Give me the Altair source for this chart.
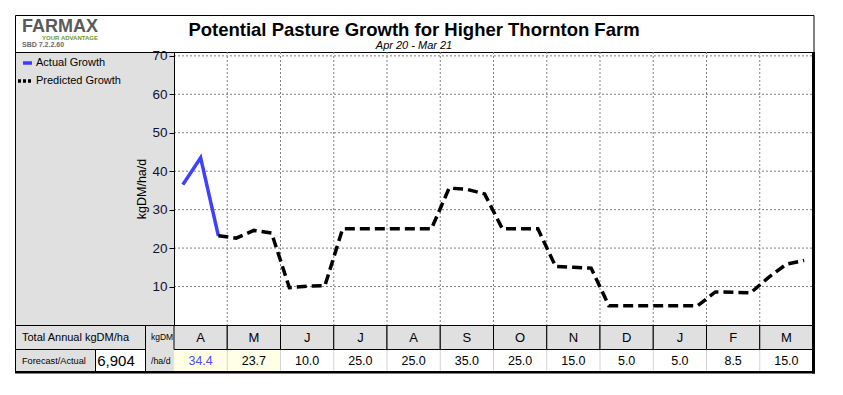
import altair as alt
import pandas as pd

# ---------------- data ----------------
months = ["A", "M", "J", "J", "A", "S", "O", "N", "D", "J", "F", "M"]
monthly_growth = [34.4, 23.7, 10.0, 25.0, 25.0, 35.0, 25.0, 15.0, 5.0, 5.0, 8.5, 15.0]
actual_dekad = [36.5, 43.5, 23.2]
predicted_start = 2
predicted_dekad = [23.2, 22.6, 24.6, 23.9, 9.7, 10.1, 10.2,
                   25.0, 25.0, 25.0, 25.0, 25.0, 25.0,
                   35.6, 35.3, 34.1, 25.0, 25.0, 25.0,
                   15.2, 15.0, 14.8, 5.0, 5.0, 5.0, 5.0, 5.0, 5.0,
                   8.6, 8.5, 8.4, 12.4, 15.8, 16.8]
y_ticks = [10, 20, 30, 40, 50, 60, 70]
total_annual = "6,904"
title_text = "Potential Pasture Growth for Higher Thornton Farm"
subtitle_text = "Apr 20 - Mar 21"

# ---------------- tables ----------------
rows = []
for i, v in enumerate(actual_dekad):
    rows.append({"t": i + 0.5, "v": v, "series": "Actual Growth"})
for j, v in enumerate(predicted_dekad):
    rows.append({"t": predicted_start + j + 0.5, "v": v, "series": "Predicted Growth"})
line_df = pd.DataFrame(rows)

month_df = pd.DataFrame({
    "m": list(range(12)),
    "letter": months,
    "val": monthly_growth,
})
month_df["x0"] = month_df["m"] * 3
month_df["x1"] = month_df["m"] * 3 + 3
month_df["mid"] = month_df["m"] * 3 + 1.5
tick_df = pd.DataFrame({"v": y_ticks})

FONT = "Liberation Sans"
GRAY = "#e0e0e0"
GRID = "#808080"
xs = alt.Scale(domain=[0, 36], nice=False, zero=False)
ys = alt.Scale(domain=[0, 71], nice=False, zero=True)
y_axis = alt.Axis(values=y_ticks, title="kgDM/ha/d", titleFont=FONT,
                  titleFontSize=12.5, titleFontWeight="normal", titleColor="black",
                  titlePadding=3, labelFont=FONT, labelFontSize=13.5,
                  labelColor="#101030", labelPadding=2, tickSize=5,
                  tickColor="black", domainColor="black", grid=False, zindex=1)

X0, Y0 = 174, 52
one = alt.Data(values=[{"k": 1}])


def px(x):
    return x - X0


def py(y):
    return y - Y0


def box(x1, y1, x2, y2, fill, stroke=None, sw=1):
    kw = {"fill": fill}
    if stroke:
        kw.update(stroke=stroke, strokeWidth=sw)
    return alt.Chart(one).mark_rect(**kw).encode(
        x=alt.value(px(x1)), x2=alt.value(px(x2)),
        y=alt.value(py(y1)), y2=alt.value(py(y2)))


def label(x, y, text, size, **kw):
    return alt.Chart(one).mark_text(text=text, fontSize=size, font=FONT, **kw).encode(
        x=alt.value(px(x)), y=alt.value(py(y)))


def hline(x1, x2, y, color, sw, dash=None):
    kw = {"color": color, "strokeWidth": sw}
    if dash:
        kw["strokeDash"] = dash
    return alt.Chart(one).mark_rule(**kw).encode(
        x=alt.value(px(x1)), x2=alt.value(px(x2)), y=alt.value(py(y)))


layers = []
# header and left panel
layers.append(box(15.5, 15.5, 814, 52.5, "white", "black"))
layers.append(box(15.5, 52.5, 174.5, 325.5, GRAY, "black"))
# table left cells
layers.append(box(15.5, 325.5, 145.5, 349.5, GRAY, "black"))
layers.append(box(15.5, 349.5, 95.5, 372, GRAY, "black"))
layers.append(box(95.5, 349.5, 145.5, 372, "white", "black"))
layers.append(box(145.5, 325.5, 174.5, 372, GRAY, "black"))

# grid lines inside the plot
layers.append(alt.Chart(month_df[month_df["m"] < 11]).mark_rule(
    color=GRID, strokeWidth=1, strokeDash=[2, 2]).encode(
    x=alt.X("x1:Q", scale=xs, axis=None),
    y=alt.value(0), y2=alt.value(273)))
layers.append(alt.Chart(tick_df).mark_rule(
    color=GRID, strokeWidth=1, strokeDash=[2, 2]).encode(
    y=alt.Y("v:Q", scale=ys, axis=y_axis),
    x=alt.value(0), x2=alt.value(639)))

# month header cells
layers.append(alt.Chart(month_df).mark_rect(fill=GRAY, stroke="black", strokeWidth=1).encode(
    x=alt.X("x0:Q", scale=xs, axis=None), x2="x1:Q",
    y=alt.value(py(325.5)), y2=alt.value(py(349.5))))
# value cells
layers.append(alt.Chart(month_df).mark_rect().encode(
    x=alt.X("x0:Q", scale=xs, axis=None), x2="x1:Q",
    y=alt.value(py(350)), y2=alt.value(py(371)),
    fill=alt.condition("datum.m < 2", alt.value("#ffffe6"), alt.value("white"))))
layers.append(alt.Chart(month_df[month_df["m"] < 11]).mark_rule(color="#d4d4d4", strokeWidth=1).encode(
    x=alt.X("x1:Q", scale=xs, axis=None),
    y=alt.value(py(350)), y2=alt.value(py(371))))
# month letters and values
layers.append(alt.Chart(month_df).mark_text(font=FONT, fontSize=13, color="black").encode(
    x=alt.X("mid:Q", scale=xs, axis=None), y=alt.value(py(337.5)), text="letter:N"))
layers.append(alt.Chart(month_df).mark_text(font=FONT, fontSize=12.5).encode(
    x=alt.X("mid:Q", scale=xs, axis=None), y=alt.value(py(361)),
    text=alt.Text("val:Q", format=".1f"),
    color=alt.condition("datum.m == 0", alt.value("#4b4bff"), alt.value("black"))))

# table left texts
layers.append(label(22, 338, "Total Annual kgDM/ha", 11, align="left", color="black"))
layers.append(label(22, 361, "Forecast/Actual", 9.2, align="left", color="black"))
layers.append(label(116, 361, total_annual, 15, align="center", color="black"))
layers.append(label(151, 337, "kgDM", 8.5, align="left", color="black"))
layers.append(label(151, 361, "/ha/d", 8.8, align="left", color="black"))

# thick borders
layers.append(box(812, 52, 815, 373.5, "black"))
layers.append(box(15, 371, 815, 373.5, "black"))

# title area
layers.append(label(414, 35.5, title_text, 18.5, align="center", baseline="alphabetic",
                    fontWeight="bold", color="black"))
layers.append(label(414, 48.5, subtitle_text, 11, align="center", baseline="alphabetic",
                    fontStyle="italic", color="black"))
layers.append(label(22, 32, "FARMAX", 18, align="left", baseline="alphabetic",
                    fontWeight="bold", color="#5a5a5a"))
layers.append(label(98, 40, "YOUR ADVANTAGE", 6, align="right", baseline="alphabetic",
                    fontWeight="bold", color="#6a9a1f"))
layers.append(label(22, 47, "SBD 7.2.2.60", 7, align="left", baseline="alphabetic",
                    fontWeight="bold", color="#6a6a6a"))

# legend
layers.append(hline(23, 32, 63, "#3b3bff", 3.5))
layers.append(hline(18, 33, 81, "black", 3.5, [3, 2]))
layers.append(label(36, 63, "Actual Growth", 11, align="left", color="black"))
layers.append(label(36, 81, "Predicted Growth", 11, align="left", color="black"))

# growth lines
lines = alt.Chart(line_df).mark_line(strokeWidth=3.5).encode(
    x=alt.X("t:Q", scale=xs, axis=None),
    y=alt.Y("v:Q", scale=ys, axis=y_axis),
    color=alt.Color("series:N", scale=alt.Scale(domain=["Actual Growth", "Predicted Growth"],
                                                range=["#4040ff", "black"]), legend=None),
    strokeDash=alt.StrokeDash("series:N",
                              scale=alt.Scale(domain=["Actual Growth", "Predicted Growth"],
                                              range=[[1, 0], [10, 5]]), legend=None),
)
layers.append(lines)

chart = alt.layer(*layers).properties(
    width=639, height=273,
    autosize=alt.AutoSizeParams(type="none"),
    padding={"left": 166, "top": 44, "right": 20, "bottom": 58},
    background="white",
).configure_view(stroke="black", strokeWidth=1)

chart.save("out.html", embed_options={"renderer": "svg", "actions": False})
